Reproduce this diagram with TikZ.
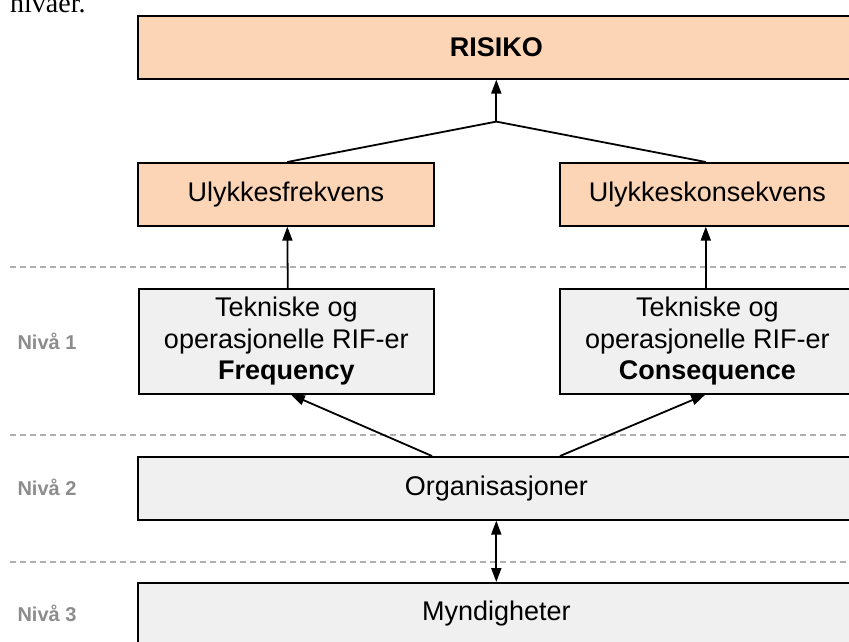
\documentclass[tikz,border=0pt]{standalone}
\usepackage{fontspec}
\setmainfont{Liberation Sans}
\newfontfamily\seriffont{Liberation Serif}
\usetikzlibrary{arrows.meta,calc}

\definecolor{peach}{RGB}{251,213,181}
\definecolor{boxgrey}{RGB}{240,240,240}
\definecolor{levelgrey}{RGB}{140,140,140}
\definecolor{dashgrey}{RGB}{175,175,175}

\tikzset{
  base/.style={draw=black, line width=1.6pt, rectangle, anchor=north west,
               inner sep=0pt, align=center, font=\fontsize{27}{31.5}\selectfont},
  orbox/.style={base, fill=peach},
  greybox/.style={base, fill=boxgrey},
  level/.style={font=\fontsize{20}{24}\selectfont\bfseries, text=levelgrey},
  divider/.style={draw=dashgrey, line width=1.5pt, dash pattern=on 6pt off 4pt},
  link/.style={draw=black, line width=1.8pt},
  arr/.style={link, -{Triangle[length=14pt,width=10pt]}},
  biarr/.style={link, {Triangle[length=14pt,width=10pt]}-{Triangle[length=14pt,width=10pt]}}
}

\begin{document}
\begin{tikzpicture}[x=1pt,y=-1pt]
  \useasboundingbox (0,0) rectangle (849,641);
  \clip (0,0) rectangle (849,641);

  % running text above the figure
  \node[anchor=base west, inner sep=0pt, font=\seriffont\fontsize{28}{30}\selectfont] (prev) at (10,12) {nivåer.};

  % level dividers
  \draw[divider] (10,267) -- (849,267);
  \draw[divider] (10,435) -- (849,435);
  \draw[divider] (10,562) -- (849,562);

  % level labels
  \node[level] (n1) at (47,341) {Nivå 1};
  \node[level] (n2) at (47,487) {Nivå 2};
  \node[level] (n3) at (47,613) {Nivå 3};

  % boxes (the right-hand ones run past the right edge)
  \node[orbox, minimum width=717pt, minimum height=63pt] (risiko) at (137,15) {\bfseries RISIKO};
  \node[orbox, minimum width=296pt, minimum height=63pt] (frek) at (137,162) {Ulykkesfrekvens};
  \node[orbox, minimum width=295pt, minimum height=63pt] (kons) at (559,162) {Ulykkeskonsekvens};
  \node[greybox, minimum width=295pt, minimum height=105pt] (tek1) at (138,288)
    {Tekniske og\\operasjonelle RIF-er\\\bfseries Frequency};
  \node[greybox, minimum width=295pt, minimum height=105pt] (tek2) at (559,288)
    {Tekniske og\\operasjonelle RIF-er\\\bfseries Consequence};
  \node[greybox, minimum width=717pt, minimum height=63pt] (org) at (137,456) {Organisasjoner};
  \node[greybox, minimum width=717pt, minimum height=62pt] (mynd) at (137,582) {Myndigheter};

  % connectors
  \coordinate (join) at ($(risiko.south)+(0,42)$);
  \draw[link] ([xshift=1.5pt]frek.north) -- (join) -- ([xshift=-1.5pt]kons.north);
  \draw[arr] (join) -- (risiko.south);
  \draw[arr] ([xshift=1.5pt]tek1.north) -- ([xshift=1.5pt]frek.south);
  \draw[arr] ([xshift=-1.5pt]tek2.north) -- ([xshift=-1.5pt]kons.south);
  \draw[arr] ([xshift=295pt]org.north west) -- ([xshift=4.5pt]tek1.south);
  \draw[arr] ([xshift=423pt]org.north west) -- ([xshift=-2pt]tek2.south);
  \draw[biarr] (org.south) -- (mynd.north);
\end{tikzpicture}
\end{document}
